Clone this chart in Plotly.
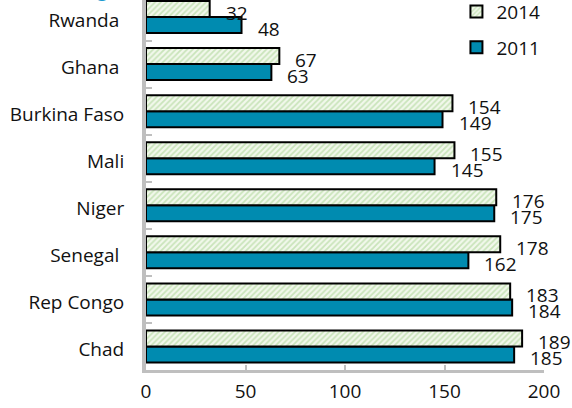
import plotly.graph_objects as go

# Data (top to bottom as shown)
countries = ["Rwanda", "Ghana", "Burkina Faso", "Mali", "Niger", "Senegal", "Rep Congo", "Chad"]
tick_labels = ["Rwanda\u00a0", "Ghana\u00a0", "Burkina Faso", "Mali", "Niger",
               "Senegal\u00a0", "Rep Congo", "Chad"]
rank_2014 = [32, 67, 154, 155, 176, 178, 183, 189]
rank_2011 = [48, 63, 149, 145, 175, 162, 184, 185]
x_ticks = [0, 50, 100, 150, 200]
title_text = "(ranking)"

TEAL = "#008bb0"
FONT = "Open Sans"

# plot bottom-to-top so that Rwanda is on top
cats = countries[::-1]
labs = tick_labels[::-1]
v14 = rank_2014[::-1]
v11 = rank_2011[::-1]

bargap = 0.32
half = (1 - bargap) / 4

fig = go.Figure()
fig.add_trace(go.Bar(
    y=cats, x=v11, orientation="h", name="2011", legendgroup="a", legendrank=2,
    marker=dict(color=TEAL, line=dict(color="black", width=2)),
))
fig.add_trace(go.Bar(
    y=cats, x=v14, orientation="h", name="2014", legendgroup="b", legendrank=1,
    marker=dict(color="#f2f8ec", line=dict(color="black", width=2),
                pattern=dict(shape="/", fgcolor="#9fcf88", bgcolor="#f2f8ec",
                             size=4, solidity=0.45)),
))

annotations = []
for i, (a, b) in enumerate(zip(v14, v11)):
    annotations.append(dict(x=a, y=i + half, xref="x", yref="y", text=str(a),
                            showarrow=False, xanchor="left", yanchor="middle",
                            xshift=14, yshift=-4,
                            font=dict(family=FONT, size=19, color="#111")))
    annotations.append(dict(x=b, y=i - half, xref="x", yref="y", text=str(b),
                            showarrow=False, xanchor="left", yanchor="middle",
                            xshift=14, yshift=-4,
                            font=dict(family=FONT, size=19, color="#111")))
annotations.append(dict(x=-0.284, y=1, xref="paper", yref="paper", text=title_text,
                        showarrow=False, xanchor="left", yanchor="bottom", yshift=-5,
                        font=dict(family=FONT, size=19, color="#1f9bd0")))

fig.update_layout(
    width=572, height=408,
    margin=dict(l=146, r=28, t=0, b=38, autoexpand=False),
    paper_bgcolor="white", plot_bgcolor="white",
    barmode="group", bargap=bargap, bargroupgap=0,
    font=dict(family=FONT, size=18, color="#111"),
    showlegend=True,
    legend=dict(x=0.78, y=1.02, xanchor="left", yanchor="top",
                traceorder="grouped", tracegroupgap=8,
                font=dict(family=FONT, size=19, color="#111"),
                bgcolor="rgba(0,0,0,0)", itemwidth=30),
    annotations=annotations,
    xaxis=dict(range=[0, 200], tickvals=x_ticks, ticks="inside", ticklen=5,
               tickwidth=2, tickcolor="#bfbfbf", showline=True, linecolor="#bfbfbf",
               linewidth=3, showgrid=False, zeroline=False, automargin=False,
               ticklabelstandoff=2,
               tickfont=dict(family=FONT, size=19, color="#111")),
    yaxis=dict(type="category", categoryorder="array", categoryarray=cats,
               tickvals=cats, ticktext=labs,
               range=[-0.5, 7.362], ticks="inside", tickson="boundaries", ticklen=6,
               tickwidth=2, tickcolor="#bfbfbf", showline=True, linecolor="#bfbfbf",
               linewidth=4, showgrid=False, zeroline=False, ticklabelstandoff=14,
               ticklabelshift=3, automargin=False,
               tickfont=dict(family=FONT, size=19, color="#111")),
)

fig.write_html("out.html", config={"displayModeBar": False},
               post_script="document.body.style.margin='0';")
